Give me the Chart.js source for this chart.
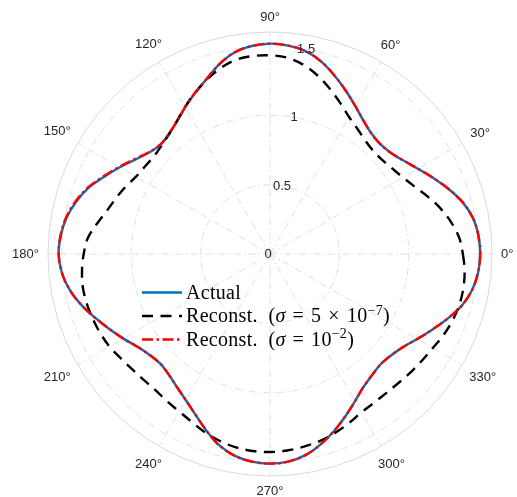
<!DOCTYPE html>
<html>
<head>
<meta charset="utf-8">
<script src="https://cdn.jsdelivr.net/npm/chart.js@4.4.1/dist/chart.umd.min.js"></script>
<style>
  html, body { margin: 0; padding: 0; background: #ffffff; }
  canvas { display: block; }
</style>
</head>
<body>
<canvas id="polar" width="517" height="497"></canvas>
<script>
// Sample angles (degrees, counter-clockwise from the +x axis)
const THETA_DEG = [
  0, 5, 10, 15, 20, 25, 30, 35, 40, 45, 50, 55,
  60, 65, 70, 75, 80, 85, 90, 95, 100, 105, 110, 115,
  120, 125, 130, 135, 140, 145, 150, 155, 160, 165, 170, 175,
  180, 185, 190, 195, 200, 205, 210, 215, 220, 225, 230, 235,
  240, 245, 250, 255, 260, 265, 270, 275, 280, 285, 290, 295,
  300, 305, 310, 315, 320, 325, 330, 335, 340, 345, 350, 355
];

// Actual radius pattern
const ACTUAL = [
  1.515, 1.508, 1.486, 1.438, 1.370, 1.298, 1.230, 1.174, 1.136, 1.122, 1.136, 1.174,
  1.230, 1.296, 1.366, 1.434, 1.484, 1.508, 1.516, 1.505, 1.475, 1.415, 1.340, 1.280,
  1.222, 1.168, 1.132, 1.116, 1.138, 1.186, 1.250, 1.318, 1.392, 1.448, 1.490, 1.514,
  1.523, 1.507, 1.468, 1.410, 1.342, 1.278, 1.220, 1.166, 1.132, 1.118, 1.135, 1.170,
  1.215, 1.275, 1.350, 1.425, 1.476, 1.502, 1.511, 1.502, 1.472, 1.418, 1.355, 1.288,
  1.225, 1.172, 1.142, 1.126, 1.138, 1.170, 1.225, 1.290, 1.362, 1.432, 1.480, 1.506
];

// Reconstruction, sigma = 5e-7
const RECON_SMALL_SIGMA = [
  1.390, 1.368, 1.325, 1.272, 1.210, 1.150, 1.105, 1.075, 1.055, 1.052, 1.068, 1.100,
  1.140, 1.200, 1.265, 1.330, 1.385, 1.420, 1.432, 1.432, 1.420, 1.385, 1.335, 1.280,
  1.225, 1.170, 1.130, 1.105, 1.093, 1.100, 1.115, 1.148, 1.180, 1.215, 1.265, 1.318,
  1.343, 1.360, 1.370, 1.368, 1.360, 1.350, 1.335, 1.312, 1.295, 1.285, 1.282, 1.295,
  1.310, 1.335, 1.368, 1.395, 1.415, 1.425, 1.427, 1.422, 1.410, 1.395, 1.372, 1.345,
  1.318, 1.308, 1.306, 1.312, 1.325, 1.338, 1.355, 1.380, 1.400, 1.413, 1.415, 1.408
];

// Reconstruction, sigma = 1e-2
const RECON_LARGE_SIGMA = [
  1.515, 1.508, 1.486, 1.438, 1.370, 1.298, 1.230, 1.174, 1.136, 1.122, 1.136, 1.174,
  1.230, 1.296, 1.366, 1.434, 1.484, 1.508, 1.516, 1.505, 1.475, 1.415, 1.340, 1.280,
  1.222, 1.168, 1.132, 1.116, 1.141, 1.192, 1.256, 1.324, 1.398, 1.453, 1.494, 1.516,
  1.523, 1.507, 1.468, 1.410, 1.342, 1.278, 1.220, 1.166, 1.132, 1.118, 1.135, 1.170,
  1.215, 1.275, 1.350, 1.425, 1.476, 1.502, 1.511, 1.502, 1.472, 1.418, 1.355, 1.288,
  1.225, 1.172, 1.142, 1.126, 1.138, 1.170, 1.225, 1.290, 1.362, 1.432, 1.480, 1.506
];

const SERIES_LABELS = [
  'Actual',
  'Reconst.  (σ\u2004=\u20045\u2004×\u200410^{−7})',
  'Reconst.  (σ\u2004=\u200410^{−2})'
];

const ANGLE_TICKS = [0, 30, 60, 90, 120, 150, 180, 210, 240, 270, 300, 330];
const ANGLE_TICK_LABELS = ['0°', '30°', '60°', '90°', '120°', '150°', '180°', '210°', '240°', '270°', '300°', '330°'];
const R_TICKS = [0, 0.5, 1, 1.5];
const R_TICK_LABELS = ['0', '0.5', '1', '1.5'];
const R_MAX = 1.6;
const R_LABEL_ANGLE = 80;

// The radar scale runs clockwise from its start angle; with startAngle 90 the
// first spoke points along +x, so spoke i sits at -i*step degrees.
const N = THETA_DEG.length;
const STEP = 360 / N;
const toSpokes = (arr) => arr.map((_, i) => arr[(N - i) % N]);
const spokeOf = (deg) => (N - Math.round(deg / STEP)) % N;
const MAJOR_SPOKES = new Set(ANGLE_TICKS.map(spokeOf));

const GRID_COLOR = '#dfdfdf';
const EDGE_COLOR = '#d9d9d9';
const GRID_DASH = [7, 3, 1.5, 3];
const TEXT_COLOR = '#262626';
const SANS = '"Liberation Sans", Arial, Helvetica, sans-serif';
const SERIF = '"Liberation Serif", "Times New Roman", serif';

function drawRichText(ctx, text, x, y) {
  const parts = text.split(/(\^\{[^}]*\}|σ)/).filter(Boolean);
  for (const part of parts) {
    let str = part, font = '20px ' + SERIF, dy = 0;
    if (part.startsWith('^{')) {
      str = part.slice(2, -1);
      font = '14px ' + SERIF;
      dy = -7.5;
    } else if (part === 'σ') {
      font = 'italic 20px ' + SERIF;
    }
    ctx.font = font;
    ctx.fillText(str, x, y + dy);
    x += ctx.measureText(str).width;
  }
}

const polarDecorations = {
  id: 'polarDecorations',
  afterDraw(chart) {
    const ctx = chart.ctx;
    const s = chart.scales.r;
    ctx.save();

    // angle labels just outside the outer ring
    ctx.font = '13px ' + SANS;
    ctx.fillStyle = TEXT_COLOR;
    ctx.textAlign = 'center';
    ctx.textBaseline = 'middle';
    const R = s.drawingArea;
    ANGLE_TICKS.forEach((deg, j) => {
      const txt = ANGLE_TICK_LABELS[j];
      const w = ctx.measureText(txt).width;
      const a = deg * Math.PI / 180;
      const ext = (w / 2) * Math.abs(Math.cos(a)) + 6 * Math.abs(Math.sin(a));
      const p = s.getPointPosition(spokeOf(deg), R + 9 + ext);
      ctx.fillText(txt, p.x, p.y + 0.5);
    });

    // radial tick labels along the 80 degree spoke
    R_TICKS.forEach((v, j) => {
      const p = s.getPointPositionForValue(spokeOf(R_LABEL_ANGLE), v);
      ctx.fillText(R_TICK_LABELS[j], p.x - (v === 0 ? 2 : 0), p.y + 0.5);
    });

    // legend inside the axes
    const legend = { x0: 142, x1: 182, tx: 186, y0: 292.5, dy: 23.5 };
    [0, 1, 2].forEach((di, row) => {
      const ds = chart.data.datasets[di];
      const y = legend.y0 + row * legend.dy;
      ctx.save();
      ctx.strokeStyle = ds.borderColor;
      ctx.lineWidth = ds.borderWidth;
      ctx.setLineDash(ds.borderDash || []);
      ctx.beginPath();
      ctx.moveTo(legend.x0, y);
      ctx.lineTo(legend.x1, y);
      ctx.stroke();
      ctx.restore();

      ctx.save();
      ctx.fillStyle = '#000000';
      ctx.textAlign = 'left';
      ctx.textBaseline = 'alphabetic';
      try { ctx.letterSpacing = '0.3px'; } catch (e) {}
      drawRichText(ctx, ds.label, legend.tx, y + 6);
      ctx.restore();
    });

    ctx.restore();
  }
};

new Chart(document.getElementById('polar'), {
  type: 'radar',
  data: {
    labels: toSpokes(THETA_DEG),
    datasets: [
      {
        label: SERIES_LABELS[0],
        data: toSpokes(ACTUAL),
        borderColor: '#0072BD',
        borderWidth: 2.4,
        backgroundColor: 'rgba(0,0,0,0)',
        fill: false,
        pointRadius: 0,
        tension: 0.35,
        order: 3
      },
      {
        label: SERIES_LABELS[1],
        data: toSpokes(RECON_SMALL_SIGMA),
        borderColor: '#000000',
        borderWidth: 2.4,
        borderDash: [11, 7.5],
        backgroundColor: 'rgba(0,0,0,0)',
        fill: false,
        pointRadius: 0,
        tension: 0.35,
        order: 2
      },
      {
        label: SERIES_LABELS[2],
        data: toSpokes(RECON_LARGE_SIGMA),
        borderColor: '#FF0000',
        borderWidth: 2.4,
        borderDash: [11, 3.5, 2.5, 3.5],
        backgroundColor: 'rgba(0,0,0,0)',
        fill: false,
        pointRadius: 0,
        tension: 0.35,
        order: 1
      }
    ]
  },
  options: {
    responsive: false,
    animation: false,
    events: [],
    layout: { padding: { left: 48, right: 25, top: 32, bottom: 20 } },
    plugins: {
      legend: { display: false },
      tooltip: { enabled: false }
    },
    scales: {
      r: {
        min: 0,
        max: R_MAX,
        startAngle: 90,
        afterBuildTicks: (scale) => {
          scale.ticks = R_TICKS.concat([R_MAX]).map((v) => ({ value: v }));
        },
        ticks: { display: false },
        pointLabels: { display: false },
        grid: {
          circular: true,
          lineWidth: 1,
          color: (c) => (c.tick && c.tick.value === R_MAX ? EDGE_COLOR : GRID_COLOR)
        },
        border: {
          dash: (c) => (c.tick && c.tick.value === R_MAX ? [] : GRID_DASH)
        },
        angleLines: {
          display: true,
          color: (c) => (MAJOR_SPOKES.has(c.index) ? GRID_COLOR : 'rgba(0,0,0,0)'),
          lineWidth: (c) => (MAJOR_SPOKES.has(c.index) ? 1 : 0),
          borderDash: GRID_DASH
        }
      }
    }
  },
  plugins: [polarDecorations]
});
</script>
</body>
</html>
